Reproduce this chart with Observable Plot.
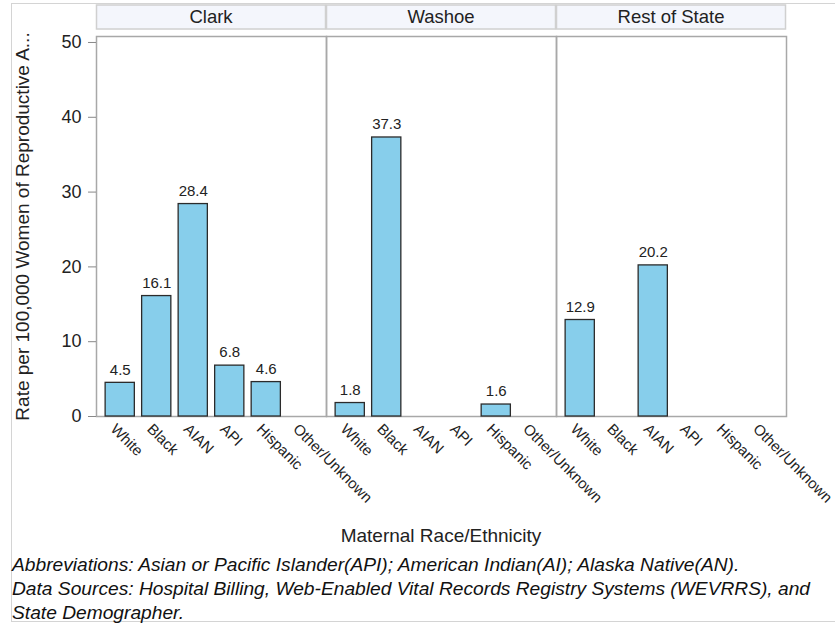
<!DOCTYPE html>
<html>
<head>
<meta charset="utf-8">
<script src="https://cdn.jsdelivr.net/npm/d3@7"></script>
<script src="https://cdn.jsdelivr.net/npm/@observablehq/plot@0.6"></script>
<style>
  body { margin: 0; background: #fff; font-family: "Liberation Sans", Arial, sans-serif; }
  #wrap { position: relative; width: 835px; height: 628px; overflow: hidden; }
  #border { position: absolute; left: 11px; top: 3px; width: 840px; height: 619px; border: 1px solid #d4d4d4; box-sizing: border-box; }
  #chart { position: absolute; left: 0; top: 0; }
  #xlabel { position: absolute; top: 525px; left: 95px; width: 692px; text-align: center; font-size: 19px; color: #222; }
  #caption { position: absolute; left: 12px; top: 553px; font-style: italic; font-size: 19.2px; line-height: 24px; color: #111; }
</style>
</head>
<body>
<div id="wrap">
  <div id="border"></div>
  <div id="chart"></div>
  <div id="xlabel">Maternal Race/Ethnicity</div>
  <div id="caption">Abbreviations: Asian or Pacific Islander(API); American Indian(AI); Alaska Native(AN).<br>Data Sources: Hospital Billing, Web-Enabled Vital Records Registry Systems (WEVRRS), and<br>State Demographer.</div>
</div>
<script>
const counties = ["Clark", "Washoe", "Rest of State"];
const races = ["White", "Black", "AIAN", "API", "Hispanic", "Other/Unknown"];
const clarkRates = [4.5, 16.1, 28.4, 6.8, 4.6, null];
const washoeRates = [1.8, 37.3, null, null, 1.6, null];
const restRates = [12.9, null, 20.2, null, null, null];
const yTicks = [0, 10, 20, 30, 40, 50];
const yLabel = "Rate per 100,000 Women of Reproductive A...";

const seriesByCounty = [clarkRates, washoeRates, restRates];
const data = [];
counties.forEach((c, i) => {
  races.forEach((r, j) => {
    const v = seriesByCounty[i][j];
    if (v != null) data.push({county: c, race: r, rate: v});
  });
});

const plot = Plot.plot({
  width: 835,
  height: 550,
  marginLeft: 95,
  marginRight: 48,
  marginTop: 36,
  marginBottom: 134,
  style: {fontFamily: "Liberation Sans, Arial, sans-serif", fontSize: "16px", color: "#222", background: "transparent"},
  fx: {domain: counties, padding: 0, axis: null},
  x: {domain: races, paddingInner: 0.2, paddingOuter: 0.25, round: false},
  y: {domain: [0, 50.8]},
  marks: [
    Plot.frame({stroke: "#a8a8a8", strokeWidth: 1.5}),
    Plot.barY(data, {fx: "county", x: "race", y: "rate", fill: "#87CEEB", stroke: "#2b2b2b", strokeWidth: 1.3}),
    Plot.text(data, {fx: "county", x: "race", y: "rate", text: d => d.rate.toFixed(1), dy: -13, fontSize: 15, fill: "#222"}),
    Plot.axisY({ticks: yTicks, tickSize: 8, tickPadding: 7, stroke: "#888", fontSize: 18, label: yLabel, labelAnchor: "center", labelArrow: "none", labelOffset: 81}),
    Plot.axisX({tickRotate: 45, tickSize: 0, tickPadding: 10, dx: -7, fontSize: 15, label: null})
  ]
});
document.getElementById("chart").appendChild(plot);
d3.select(plot).selectAll("g[aria-label='y-axis label'] text").attr("font-size", 19);

// facet header strips positioned with Plot's fx scale
const fx = plot.scale("fx");
const svg = d3.select(plot);
const bw = fx.bandwidth;
const g = svg.append("g");
counties.forEach(c => {
  const x0 = fx.apply(c);
  g.append("rect").attr("x", x0 + 0.5).attr("y", 5).attr("width", bw - 1).attr("height", 24)
    .attr("fill", "#f4f6fc").attr("stroke", "#d0d0d0").attr("stroke-width", 1.5);
  g.append("text").attr("x", x0 + bw / 2).attr("y", 17).attr("dy", "0.35em")
    .attr("text-anchor", "middle").attr("font-size", 18.5).attr("fill", "#222").text(c);
});
</script>
</body>
</html>
